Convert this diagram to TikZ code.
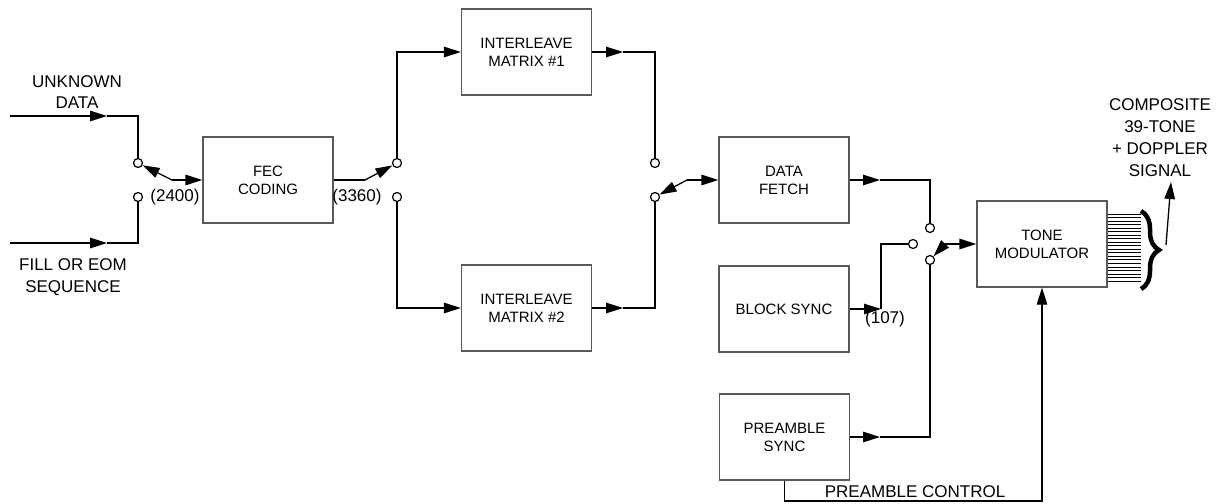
\documentclass[tikz,border=0pt]{standalone}
\usepackage{fontspec}
\setmainfont{Liberation Sans}
\usetikzlibrary{arrows.meta,decorations.pathreplacing,calc}
\begin{document}
\begin{tikzpicture}[x=1pt,y=-1pt,
  box/.style={draw=black!65, line width=1.3pt, fill=white, minimum width=130pt, minimum height=86pt, inner sep=0pt, align=center, font=\fontsize{15}{18}\selectfont},
  term/.style={circle, draw=black, line width=1.2pt, fill=white, minimum size=9pt, inner sep=0pt},
  lbl/.style={align=center, inner sep=0pt, font=\fontsize{17}{21.5}\selectfont},
  wire/.style={line width=1.3pt},
  bus/.style={line width=2.7pt},
  arr/.style={line width=1.3pt, -{Triangle[length=17pt,width=10.5pt]}},
  fan/.style={line width=0.9pt},
  bracestyle/.style={line width=4.5pt, decorate, decoration={brace, amplitude=18pt}}
]
\useasboundingbox (0,0) rectangle (1220,503);

% boxes
\node[box] (fec) at (268,180) {FEC\\CODING};
\node[box] (il1) at (526.5,52) {INTERLEAVE\\MATRIX \#1};
\node[box] (il2) at (526.5,308) {INTERLEAVE\\MATRIX \#2};
\node[box] (df)  at (784,180) {DATA\\FETCH};
\node[box] (bs)  at (784,309) {BLOCK SYNC};
\node[box] (ps)  at (784.5,437) {PREAMBLE\\SYNC};
\node[box] (tm)  at (1042,244) {TONE\\MODULATOR};

% labels
\node[lbl] (lunk) at (77,92) {UNKNOWN\\DATA};
\node[lbl] (lfill) at (73,277) {FILL OR EOM\\SEQUENCE};
\node[lbl] (l2400) at (175,197) {(2400)};
\node[lbl] (l3360) at (357,197) {(3360)};
\node[lbl] (l107) at (885,319) {(107)};
\node[lbl] (lpc) at (915,492) {PREAMBLE CONTROL};
\node[lbl, font=\fontsize{17}{22}\selectfont, anchor=south] (comp) at (1160,177) {COMPOSITE\\39-TONE\\+ DOPPLER\\SIGNAL};

% switch terminals
\node[term] (s1a) at (138,163) {};
\node[term] (s1b) at (138,197) {};
\node[term] (s2a) at (397,163) {};
\node[term] (s2b) at (397,197) {};
\node[term] (s3a) at (655,163) {};
\node[term] (s3b) at (655,197) {};
\node[term] (s4a) at (930,228) {};
\node[term] (s4c) at (913,244) {};
\node[term] (s4b) at (930,260) {};

% helper coordinates
\coordinate (in1) at (10,116);  \coordinate (j1) at (107,116);
\coordinate (in2) at (10,243);  \coordinate (j2) at (107,243);
\coordinate (p1) at (172,180);
\coordinate (p2) at (365,180);
\coordinate (k1) at (430,52);   \coordinate (k2) at (430,308);
\coordinate (m1) at (623,52);   \coordinate (m2) at (623,308);
\coordinate (p3) at (687,180);
\coordinate (n1) at (880,180);  \coordinate (n1b) at (913,180);
\coordinate (n2) at (881,309);
\coordinate (n3) at (880,437);  \coordinate (n3b) at (913,437);
\coordinate (p4) at (945,244);
\coordinate (pcr) at (1042,501);
\coordinate (brtop) at (1141,211); \coordinate (brbot) at (1141,289);
\coordinate (brtip) at (1166,245);

% inputs to switch 1
\draw[arr] (in1) -- (j1);
\draw[bus] (j1) -| (s1a);
\draw[arr] (in2) -- (j2);
\draw[bus] (j2) -| (s1b);
\draw[arr] (p1) -- (s1a);
\draw[arr] (p1) -- (fec.west);

% switch 2
\draw[wire] (fec.east) -- (p2);
\draw[arr] (p2) -- (s2a);
\draw[bus] (s2a) |- (k1);
\draw[arr] (k1) -- (il1.west);
\draw[bus] (s2b) |- (k2);
\draw[arr] (k2) -- (il2.west);

% switch 3
\draw[arr] (il1.east) -- (m1);
\draw[bus] (m1) -| (s3a);
\draw[arr] (il2.east) -- (m2);
\draw[bus] (m2) -| (s3b);
\draw[arr] (p3) -- (s3b);
\draw[arr] (p3) -- (df.west);

% switch 4
\draw[arr] (df.east) -- (n1);
\draw[wire] (n1) -- (n1b);
\draw[bus] (n1b) -| (s4a);
\draw[arr] (bs.east) -- (n2);
\draw[bus] (n2) |- (s4c);
\draw[arr] (ps.east) -- (n3);
\draw[wire] (n3) -- (n3b);
\draw[bus] (n3b) -| (s4b);
\draw[arr] (p4) -- (s4b);
\draw[arr] (p4) -- (tm.west);

% preamble control
\draw[arr] (ps.south) |- (pcr) -- (tm.south);

% tone fan
\foreach \i in {0,...,19}
  \draw[fan] ([yshift={30pt-\i*3.53pt}]tm.east) -- ++(33,0);
\draw[bracestyle] (brtop) -- (brbot);
\draw[arr] (brtip) -- ([xshift=11pt,yshift=-5pt]comp.south);
\end{tikzpicture}
\end{document}
